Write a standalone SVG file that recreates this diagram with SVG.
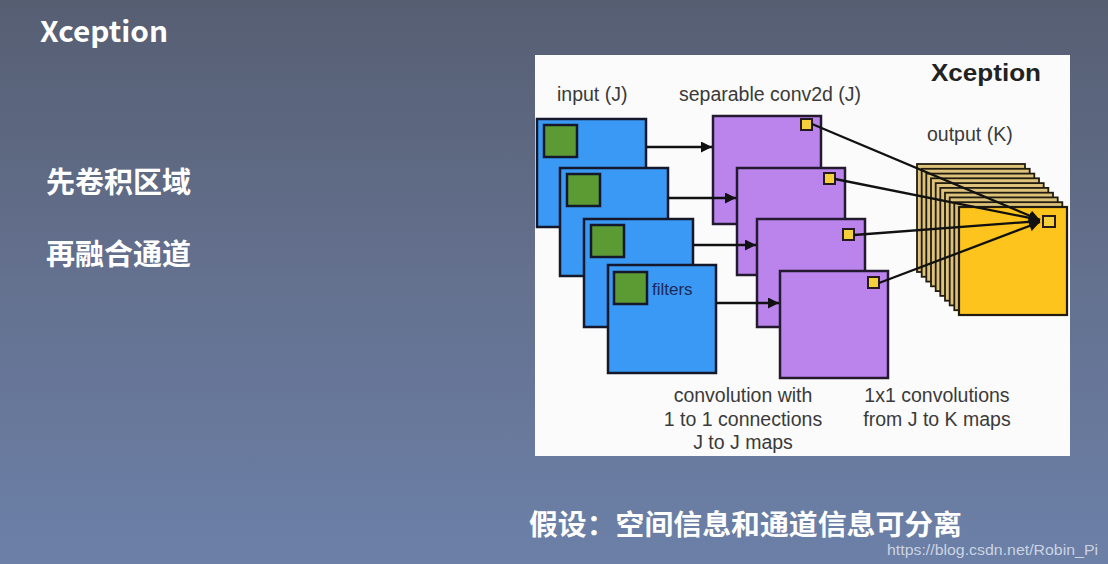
<svg xmlns="http://www.w3.org/2000/svg" width="1108" height="564" viewBox="0 0 1108 564">
<defs>
<linearGradient id="bg" x1="0" y1="0" x2="0" y2="1">
<stop offset="0" stop-color="#565e72"/>
<stop offset="0.5" stop-color="#64718f"/>
<stop offset="1" stop-color="#6c80a8"/>
</linearGradient>
<marker id="ah" viewBox="0 0 10 10" refX="10" refY="5" markerWidth="14" markerHeight="11" markerUnits="userSpaceOnUse" orient="auto">
<path d="M0,0 L10,5 L0,10 z" fill="#111"/>
</marker>
<style>
.blue{fill:#3a99f4;stroke:#14182a;stroke-width:2.5}
.green{fill:#5c9a34;stroke:#14182a;stroke-width:2.5}
.purple{fill:#bb84ec;stroke:#241a30;stroke-width:2.5}
.dot{fill:#f4d03a;stroke:#241a20;stroke-width:2}
.tan{fill:#dcc27a;stroke:#221c10;stroke-width:1.8}
.gold{fill:#fdc41d;stroke:#221c10;stroke-width:2.2}
.lbl{font-family:"Liberation Sans",Arial,sans-serif;font-size:19.5px;fill:#3a3a3a}
.conn line{stroke:#111;stroke-width:2.3;marker-end:url(#ah)}
.head{font-family:"Noto Sans CJK SC","Noto Sans",sans-serif;font-weight:bold;fill:#fff}
</style>
</defs>
<rect width="1108" height="564" fill="url(#bg)"/>
<text class="head" x="40" y="42" font-size="28" textLength="128" lengthAdjust="spacingAndGlyphs">Xception</text>
<text class="head" x="46" y="193" font-size="29">先卷积区域</text>
<text class="head" x="46" y="265" font-size="29">再融合通道</text>
<text class="head" x="529" y="535" font-size="28" textLength="433" lengthAdjust="spacingAndGlyphs">假设：空间信息和通道信息可分离</text>
<text x="887" y="555" font-family="'Liberation Sans',Arial,sans-serif" font-size="15.5" fill="#dfe3ee" fill-opacity="0.85" textLength="211" lengthAdjust="spacingAndGlyphs">https://blog.csdn.net/Robin_Pi</text>

<rect x="535" y="55" width="535" height="401" fill="#fbfbfb"/>
<text x="931" y="81" font-family="'Liberation Sans',Arial,sans-serif" font-weight="bold" font-size="23" fill="#222" textLength="110" lengthAdjust="spacingAndGlyphs">Xception</text>
<text class="lbl" x="557" y="101">input (J)</text>
<text class="lbl" x="679" y="101">separable conv2d (J)</text>
<text class="lbl" x="927" y="141">output (K)</text>
<text class="lbl" x="743" y="402" text-anchor="middle">convolution with</text>
<text class="lbl" x="743" y="426" text-anchor="middle">1 to 1 connections</text>
<text class="lbl" x="743" y="449" text-anchor="middle">J to J maps</text>
<text class="lbl" x="937" y="402" text-anchor="middle">1x1 convolutions</text>
<text class="lbl" x="937" y="426" text-anchor="middle">from J to K maps</text>

<g id="in1"><rect class="blue" x="537" y="119" width="109" height="108"/><rect class="green" x="544" y="125" width="33" height="32"/></g>
<g id="in2"><rect class="blue" x="560" y="168" width="108" height="108"/><rect class="green" x="567" y="174" width="33" height="32"/></g>
<g id="in3"><rect class="blue" x="584" y="219" width="109" height="108"/><rect class="green" x="591" y="225" width="33" height="32"/></g>
<g id="in4"><rect class="blue" x="608" y="265" width="108" height="108"/><rect class="green" x="614" y="272" width="33" height="32"/><text x="652" y="295" font-family="'Liberation Sans',Arial,sans-serif" font-size="17" fill="#1c2a55">filters</text></g>

<g id="sep1"><rect class="purple" x="713" y="116" width="108" height="108"/><rect class="dot" x="801" y="119" width="11" height="11"/></g>
<g id="sep2"><rect class="purple" x="737" y="168" width="108" height="107"/><rect class="dot" x="824" y="173" width="11" height="11"/></g>
<g id="sep3"><rect class="purple" x="757" y="219" width="108" height="108"/><rect class="dot" x="843" y="229" width="11" height="11"/></g>
<g id="sep4"><rect class="purple" x="780" y="271" width="108" height="107"/><rect class="dot" x="868" y="277" width="11" height="11"/></g>

<g id="output">
<rect class="tan" x="917" y="164" width="108" height="108"/>
<rect class="tan" x="921.7" y="168.8" width="108" height="108"/>
<rect class="tan" x="926.3" y="173.6" width="108" height="108"/>
<rect class="tan" x="931" y="178.3" width="108" height="108"/>
<rect class="tan" x="935.7" y="183.1" width="108" height="108"/>
<rect class="tan" x="940.3" y="187.9" width="108" height="108"/>
<rect class="tan" x="945" y="192.7" width="108" height="108"/>
<rect class="tan" x="949.7" y="197.4" width="108" height="108"/>
<rect class="tan" x="954.3" y="202.2" width="108" height="108"/>
<rect class="gold" x="959" y="207" width="108" height="108"/>
<rect class="dot" x="1043" y="216" width="12" height="11"/>
</g>

<g id="connectors" class="conn">
<line x1="646" y1="147" x2="712" y2="147"/>
<line x1="668" y1="198" x2="736" y2="198"/>
<line x1="693" y1="245" x2="756" y2="245"/>
<line x1="716" y1="303" x2="779" y2="303"/>
<line x1="812" y1="124" x2="1040" y2="220"/>
<line x1="835" y1="179" x2="1040" y2="220"/>
<line x1="854" y1="235" x2="1040" y2="221"/>
<line x1="879" y1="283" x2="1040" y2="222"/>
</g>
</svg>
